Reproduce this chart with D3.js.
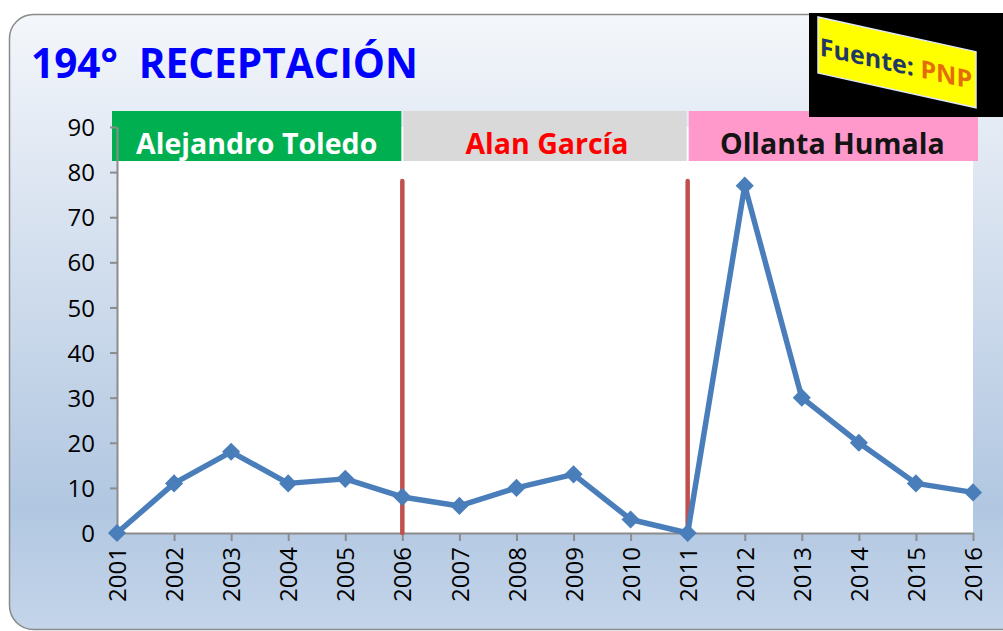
<!DOCTYPE html>
<html lang="es">
<head>
<meta charset="UTF-8">
<title>194° RECEPTACIÓN</title>
<style>
  body { margin: 0; background: #fff; }
  svg { display: block; }
  .tick text { font-family: "Open Sans", "DejaVu Sans", sans-serif; font-size: 24px; fill: #000; }
  .tick line, .domain { stroke: #8c8c8c; stroke-width: 2; }
</style>
</head>
<body>
<svg width="1003" height="631"></svg>
<script src="https://d3js.org/d3.v7.min.js"></script>
<script>
// data
var years = ["2001","2002","2003","2004","2005","2006","2007","2008","2009","2010","2011","2012","2013","2014","2015","2016"];
var cases = [0, 11, 18, 11, 12, 8, 6, 10, 13, 3, 0, 77, 30, 20, 11, 9];
var yTicks = [0, 10, 20, 30, 40, 50, 60, 70, 80, 90];
var presidents = ["Alejandro Toledo", "Alan García", "Ollanta Humala"];
var termStart = ["2001", "2006", "2011"];
var termEnd = ["2006", "2011", "2016"];
var changeYears = ["2006", "2011"];

var svg = d3.select("svg");
var margin = {left: 117, right: 30, top: 127, bottom: 98};
var W = 1003, H = 631;

// panel background
var defs = svg.append("defs");
var grad = defs.append("linearGradient").attr("id", "bg")
    .attr("x1", 0).attr("y1", 0).attr("x2", 0).attr("y2", 1);
grad.append("stop").attr("offset", "0").attr("stop-color", "#f4f7fb");
grad.append("stop").attr("offset", "0.2").attr("stop-color", "#e3eaf4");
grad.append("stop").attr("offset", "0.8").attr("stop-color", "#b1c7e1");
grad.append("stop").attr("offset", "1").attr("stop-color", "#c4d5ea");

svg.append("rect")
    .attr("x", 9.5).attr("y", 14.5).attr("width", 1020).attr("height", 615)
    .attr("rx", 24).attr("ry", 24)
    .attr("fill", "url(#bg)").attr("stroke", "#8a8a8a").attr("stroke-width", 1.5);

var x = d3.scalePoint().domain(years).range([margin.left, W - margin.right]);
var y = d3.scaleLinear().domain([0, 90]).range([H - margin.bottom, margin.top]);

// plot area
svg.append("rect")
    .attr("x", x(years[0])).attr("y", y(90))
    .attr("width", x(years[years.length - 1]) - x(years[0]))
    .attr("height", y(0) - y(90))
    .attr("fill", "#fff");

// title
svg.append("text")
    .attr("x", 31).attr("y", 78)
    .attr("font-family", "'Open Sans', sans-serif").attr("font-weight", 700)
    .attr("font-size", 40.5).attr("fill", "#0000ff")
    .attr("xml:space", "preserve")
    .text("194°  RECEPTACIÓN");

// president bands
var bandFill = ["#00b050", "#d9d9d9", "#ff99cc"];
var bandText = ["#ffffff", "#ff0000", "#141414"];
var band = svg.selectAll(".band").data(presidents).enter().append("g").attr("class", "band");
band.append("rect")
    .attr("x", function(d, i) { return i == 0 ? x(termStart[i]) - 5 : x(termStart[i]) + 1; })
    .attr("y", 111)
    .attr("width", function(d, i) {
        var a = i == 0 ? x(termStart[i]) - 5 : x(termStart[i]) + 1;
        var b = i == 2 ? x(termEnd[i]) + 5 : x(termEnd[i]) - 1;
        return b - a;
    })
    .attr("height", 50)
    .attr("fill", function(d, i) { return bandFill[i]; });
band.append("text")
    .attr("x", function(d, i) { return (x(termStart[i]) + x(termEnd[i])) / 2 + (i == 0 ? -3 : 2); })
    .attr("y", 154)
    .attr("text-anchor", "middle")
    .attr("font-family", "'Open Sans', sans-serif").attr("font-weight", 700)
    .attr("font-size", 28.5)
    .attr("fill", function(d, i) { return bandText[i]; })
    .text(function(d) { return d; });

// axes
var yAxis = svg.append("g")
    .attr("transform", "translate(" + x(years[0]) + ",0)")
    .call(d3.axisLeft(y).tickValues(yTicks).tickSize(7).tickPadding(15).tickSizeOuter(0));
yAxis.selectAll(".tick text").attr("dy", "0.36em");

var xAxis = svg.append("g")
    .attr("transform", "translate(0," + y(0) + ")")
    .call(d3.axisBottom(x).tickSize(8).tickSizeOuter(0));
xAxis.selectAll(".tick text")
    .attr("transform", "rotate(-90)")
    .attr("text-anchor", "end")
    .attr("x", -14).attr("y", 0).attr("dy", "0.36em");

// term change lines
svg.selectAll(".change").data(changeYears).enter().append("line")
    .attr("x1", function(d) { return x(d); }).attr("x2", function(d) { return x(d); })
    .attr("y1", 181).attr("y2", y(0))
    .attr("stroke", "#c0504d").attr("stroke-width", 4.5).attr("stroke-linecap", "round");

// series
var pts = years.map(function(d, i) { return [x(d), y(cases[i])]; });
svg.append("path")
    .attr("d", d3.line()(pts))
    .attr("fill", "none").attr("stroke", "#4a7ebb").attr("stroke-width", 5.5)
    .attr("stroke-linejoin", "round");

svg.selectAll(".mk").data(pts).enter().append("path")
    .attr("transform", function(d) { return "translate(" + d[0] + "," + d[1] + ")"; })
    .attr("d", d3.symbol().type(d3.symbolDiamond2).size(210))
    .attr("fill", "#4a7ebb");

// source label
svg.append("rect").attr("x", 809).attr("y", 13).attr("width", 194).attr("height", 104).attr("fill", "#000");
var src = svg.append("g").attr("transform", "translate(818,17) skewY(12.4)");
src.append("rect").attr("x", 0).attr("y", 0).attr("width", 158).attr("height", 56)
    .attr("fill", "#ffff00").attr("stroke", "#dfe8f0").attr("stroke-width", 1.5);
var st = src.append("text").attr("x", 78).attr("y", 38).attr("text-anchor", "middle")
    .attr("font-family", "'Open Sans', sans-serif").attr("font-weight", 700).attr("font-size", 25);
st.append("tspan").attr("fill", "#1f3864").text("Fuente: ");
st.append("tspan").attr("fill", "#e46c0a").text("PNP");
</script>
</body>
</html>
